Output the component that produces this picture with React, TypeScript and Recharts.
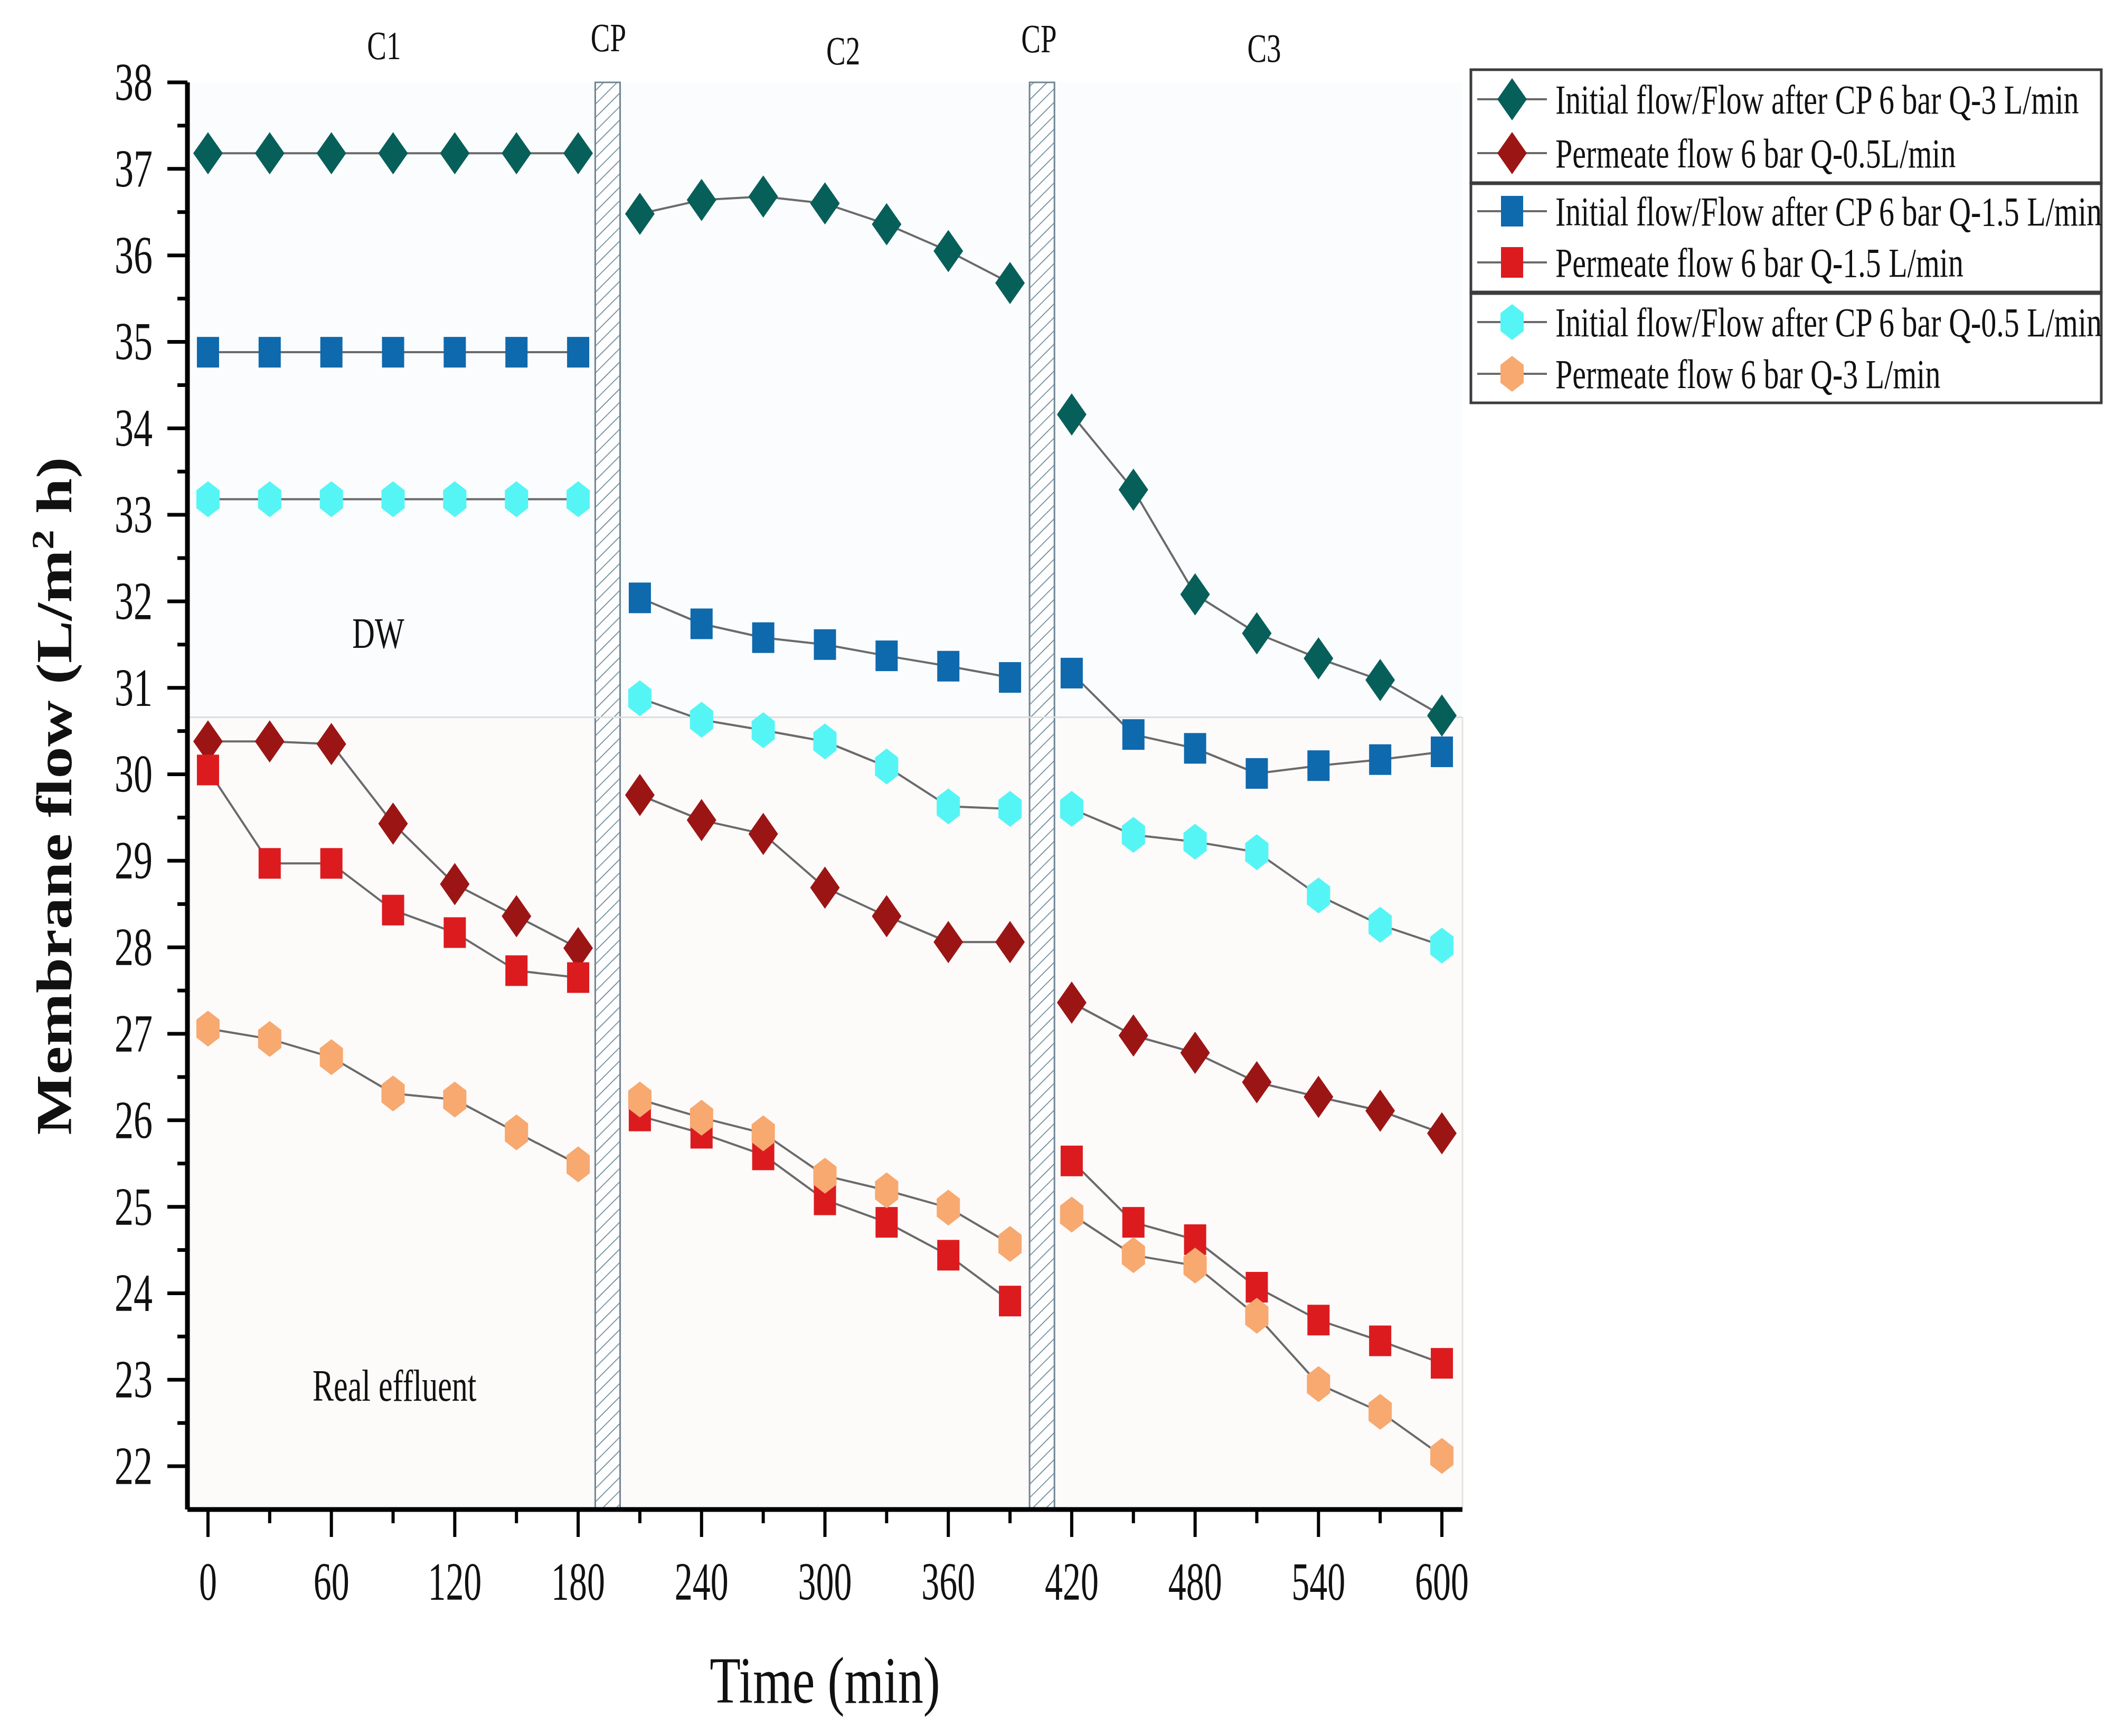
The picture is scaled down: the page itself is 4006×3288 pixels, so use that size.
import React from 'react';
import { LineChart, Line, XAxis, YAxis, ReferenceArea, ReferenceLine, ReferenceDot, Label } from 'recharts';

// sampling times (min): three cycles C1, C2, C3, each followed by a CP step
const TIME = [0, 30, 60, 90, 120, 150, 180, 210, 240, 270, 300, 330, 360, 390, 420, 450, 480, 510, 540, 570, 600];
const CP_GAPS = [195, 405];

const INIT_Q3 = [37.18, 37.18, 37.18, 37.18, 37.18, 37.18, 37.18, 36.48, 36.64, 36.68, 36.6, 36.36, 36.05, 35.68, 34.16, 33.29, 32.08, 31.63, 31.34, 31.09, 30.68];
const PERM_Q05 = [30.38, 30.38, 30.35, 29.43, 28.73, 28.36, 27.99, 29.76, 29.47, 29.31, 28.69, 28.36, 28.06, 28.06, 27.36, 26.98, 26.78, 26.44, 26.27, 26.11, 25.85];
const INIT_Q15 = [34.88, 34.88, 34.88, 34.88, 34.88, 34.88, 34.88, 32.04, 31.74, 31.58, 31.5, 31.37, 31.25, 31.12, 31.17, 30.46, 30.3, 30.01, 30.1, 30.17, 30.26];
const PERM_Q15 = [30.05, 28.97, 28.97, 28.43, 28.17, 27.73, 27.65, 26.05, 25.85, 25.6, 25.08, 24.82, 24.44, 23.91, 25.53, 24.82, 24.62, 24.07, 23.69, 23.45, 23.19];
const INIT_Q05 = [33.18, 33.18, 33.18, 33.18, 33.18, 33.18, 33.18, 30.88, 30.63, 30.51, 30.38, 30.09, 29.63, 29.6, 29.6, 29.3, 29.22, 29.1, 28.6, 28.26, 28.02];
const PERM_Q3 = [27.06, 26.94, 26.73, 26.31, 26.24, 25.86, 25.49, 26.24, 26.03, 25.85, 25.36, 25.19, 24.99, 24.57, 24.91, 24.44, 24.32, 23.74, 22.95, 22.63, 22.12];

const X_MAJOR = [0, 60, 120, 180, 240, 300, 360, 420, 480, 540, 600];
const X_MINOR = [30, 90, 150, 210, 270, 330, 390, 450, 510, 570];
const Y_MAJOR = [22, 23, 24, 25, 26, 27, 28, 29, 30, 31, 32, 33, 34, 35, 36, 37, 38];
const Y_MINOR = [22.5, 23.5, 24.5, 25.5, 26.5, 27.5, 28.5, 29.5, 30.5, 31.5, 32.5, 33.5, 34.5, 35.5, 36.5, 37.5];

const DW_LIMIT = 30.66;
const CP_BANDS = [[188.3, 200.4], [399.5, 411.6]];

const SERIES = [
    { key: 'initQ3', name: 'Initial flow/Flow after CP 6 bar Q-3 L/min', values: INIT_Q3, color: '#075f5a', shape: 'diamond' },
    { key: 'permQ05', name: 'Permeate flow 6 bar Q-0.5L/min', values: PERM_Q05, color: '#9c1515', shape: 'diamond' },
    { key: 'initQ15', name: 'Initial flow/Flow after CP 6 bar Q-1.5 L/min', values: INIT_Q15, color: '#0f69ad', shape: 'square' },
    { key: 'permQ15', name: 'Permeate flow 6 bar Q-1.5 L/min', values: PERM_Q15, color: '#dc1b1f', shape: 'square' },
    { key: 'initQ05', name: 'Initial flow/Flow after CP 6 bar Q-0.5 L/min', values: INIT_Q05, color: '#55f5f5', shape: 'hexagon' },
    { key: 'permQ3', name: 'Permeate flow 6 bar Q-3 L/min', values: PERM_Q3, color: '#f7a970', shape: 'hexagon' },
];

// rows for the line chart, with an empty row inside each CP step so lines break there
const rows: any[] = [];
TIME.forEach((t, i) => {
    if (i > 0 && i % 7 === 0) rows.push({ t: CP_GAPS[i / 7 - 1] });
    const row: any = { t };
    SERIES.forEach(s => { row[s.key] = s.values[i]; });
    rows.push(row);
});

const FONT = '"Liberation Serif", "Times New Roman", serif';
const LINE_GREY = '#6a6a6a';

function shapeAt(shape: string, cx: number, cy: number, fill: string, k?: string) {
    if (shape === 'diamond') {
        return <polygon key={k} points={`${cx},${cy - 40} ${cx + 28},${cy} ${cx},${cy + 40} ${cx - 28},${cy}`} fill={fill} />;
    }
    if (shape === 'square') {
        return <rect key={k} x={cx - 21} y={cy - 29} width={42} height={58} fill={fill} />;
    }
    return <polygon key={k} points={`${cx},${cy - 34} ${cx + 22},${cy - 17} ${cx + 22},${cy + 17} ${cx},${cy + 34} ${cx - 22},${cy + 17} ${cx - 22},${cy - 17}`} fill={fill} />;
}

// text that is drawn taller than wide, like the source figure
function TallText({ viewBox, text, size, sy = 1.4, weight = 'normal' }: any) {
    const x = viewBox.x + (viewBox.width || 0) / 2;
    const y = viewBox.y + (viewBox.height || 0) / 2;
    return (
        <text transform={`translate(${x},${y}) scale(1,${sy})`} textAnchor="middle" dominantBaseline="central"
            fontFamily={FONT} fontSize={size} fontWeight={weight} fill="#111">
            {text}
        </text>
    );
}

function YTick({ x, y, payload }: any) {
    const major = Number.isInteger(payload.value);
    return (
        <g>
            <line x1={x - (major ? 38 : 19)} x2={x} y1={y} y2={y} stroke="#000" strokeWidth={7} />
            {major && (
                <text transform={`translate(${x - 66},${y}) scale(1,1.4)`} textAnchor="end" dominantBaseline="central"
                    fontFamily={FONT} fontSize={72} fill="#111">{payload.value}</text>
            )}
        </g>
    );
}

function XTick({ x, y, payload }: any) {
    const major = payload.value % 60 === 0;
    return (
        <g>
            <line x1={x} x2={x} y1={y} y2={y + (major ? 52 : 26)} stroke="#000" strokeWidth={6} />
            {major && (
                <text transform={`translate(${x},${y + 137}) scale(1,1.5)`} textAnchor="middle" dominantBaseline="central"
                    fontFamily={FONT} fontSize={68} fill="#111">{payload.value}</text>
            )}
        </g>
    );
}

function XTitle({ viewBox }: any) {
    return (
        <text transform={`translate(${viewBox.x + viewBox.width / 2},${viewBox.y + 366}) scale(1,1.3)`} textAnchor="middle"
            fontFamily={FONT} fontSize={96} fill="#111">Time (min)</text>
    );
}

function YTitle({ viewBox }: any) {
    const cy = viewBox.y + viewBox.height / 2;
    return (
        <text transform={`translate(${viewBox.x + 80},${cy}) rotate(-90) scale(1.26,1)`} textAnchor="middle"
            fontFamily={FONT} fontSize={96} fontWeight="bold" fill="#111">
            Membrane flow (L/m<tspan dy={-34} fontSize={60}>2</tspan><tspan dy={34}> h)</tspan>
        </text>
    );
}

function LegendBoxes() {
    const rowY = [68, 170, 280, 377, 490, 588];
    const boxes = [[12, 226], [228, 433], [436, 643]];
    return (
        <svg width={1220} height={660} style={{ position: 'absolute', left: 2780, top: 120 }}>
            {boxes.map(([y1, y2], i) => (
                <rect key={i} x={6} y={y1} width={1194} height={y2 - y1} fill="#fff" stroke="#3c3c3c" strokeWidth={5} />
            ))}
            {SERIES.map((s, i) => (
                <g key={s.key}>
                    <line x1={18} x2={150} y1={rowY[i]} y2={rowY[i]} stroke={LINE_GREY} strokeWidth={4} />
                    {shapeAt(s.shape, 84, rowY[i], s.color)}
                    <text transform={`translate(166,${rowY[i]}) scale(1,1.36)`} dominantBaseline="central"
                        fontFamily={FONT} fontSize={58} fill="#111">{s.name}</text>
                </g>
            ))}
        </svg>
    );
}

const TOP_LABELS = [
    { text: 'C1', x: 85.6, y: 38.43 },
    { text: 'CP', x: 194.7, y: 38.52 },
    { text: 'C2', x: 308.9, y: 38.37 },
    { text: 'CP', x: 404.1, y: 38.51 },
    { text: 'C3', x: 513.6, y: 38.4 },
];

function renderDot(s: any) {
    return (p: any) => {
        const k = `${s.key}-${p.index}`;
        const v = Array.isArray(p.value) ? p.value[1] : p.value;
        if (p.cx == null || p.cy == null || v == null || Number.isNaN(p.cy)) return <g key={k} />;
        return shapeAt(s.shape, p.cx, p.cy, s.color, k);
    };
}

export default function App() {
    return (
        <div style={{ position: 'relative', width: 4006, height: 3288, background: '#fff' }}>
            <style>{'body{margin:0}'}</style>
            <LineChart width={4006} height={3288} data={rows} margin={{ top: 156, right: 1236, bottom: 129, left: 55 }}>
                <defs>
                    <pattern id="hatch" patternUnits="userSpaceOnUse" width={18} height={18} patternTransform="rotate(45)">
                        <rect width={18} height={18} fill="#fff" />
                        <line x1={0} y1={0} x2={0} y2={18} stroke="#55788c" strokeWidth={3} />
                    </pattern>
                </defs>
                <XAxis dataKey="t" type="number" domain={[-10, 610]} ticks={[...X_MAJOR, ...X_MINOR].sort((a, b) => a - b)}
                    allowDataOverflow height={300} tickSize={0} tickMargin={0} tickLine={false}
                    axisLine={{ stroke: '#000', strokeWidth: 9 }} tick={<XTick />} interval={0}>
                    <Label content={<XTitle />} />
                </XAxis>
                <YAxis type="number" domain={[21.5, 38]} ticks={[...Y_MAJOR, ...Y_MINOR].sort((a, b) => a - b)}
                    allowDataOverflow width={300} tickSize={0} tickMargin={0} tickLine={false}
                    axisLine={{ stroke: '#000', strokeWidth: 9 }} tick={<YTick />} interval={0}>
                    <Label content={<YTitle />} />
                </YAxis>

                <ReferenceArea x1={-10} x2={610} y1={DW_LIMIT} y2={38} fill="#fafcfd" fillOpacity={1} stroke="none" />
                <ReferenceArea x1={-10} x2={610} y1={21.5} y2={DW_LIMIT} fill="#fdfafa" fillOpacity={1} stroke="none" />
                <ReferenceLine y={DW_LIMIT} stroke="#dddddd" strokeWidth={3} />
                <ReferenceLine segment={[{ x: 610, y: 21.5 }, { x: 610, y: DW_LIMIT }]} stroke="#e4e4e4" strokeWidth={3} />
                {CP_BANDS.map(([a, b], i) => (
                    <ReferenceArea key={i} x1={a} x2={b} y1={21.5} y2={38} fill="url(#hatch)" fillOpacity={1}
                        stroke="#6f8593" strokeWidth={3} />
                ))}

                {TOP_LABELS.map((l, i) => (
                    <ReferenceDot key={i} x={l.x} y={l.y} r={0} fill="none" stroke="none" ifOverflow="visible"
                        label={<TallText text={l.text} size={55} />} />
                ))}
                <ReferenceDot x={82.8} y={31.63} r={0} fill="none" stroke="none" label={<TallText text="DW" size={59} />} />
                <ReferenceDot x={90.7} y={22.93} r={0} fill="none" stroke="none" label={<TallText text="Real effluent" size={60} />} />

                {SERIES.map(s => (
                    <Line key={s.key} dataKey={s.key} name={s.name} type="linear" stroke={LINE_GREY} strokeWidth={4}
                        isAnimationActive={false} connectNulls={false} activeDot={false} dot={renderDot(s)} />
                ))}
            </LineChart>
            <LegendBoxes />
        </div>
    );
}
